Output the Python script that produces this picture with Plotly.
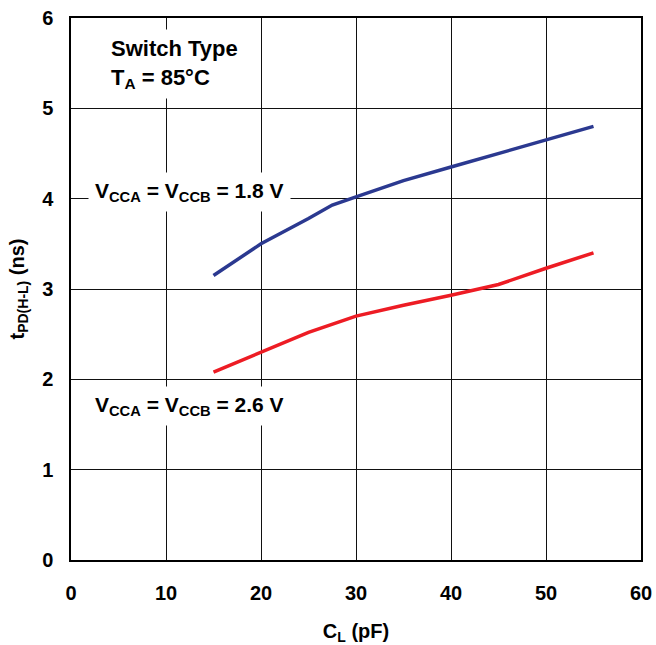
import plotly.graph_objects as go

cl_pf = [15, 20, 25, 27.5, 30, 35, 40, 45, 50, 55]
t_18v = [3.15, 3.5, 3.78, 3.93, 4.02, 4.2, 4.35, 4.5, 4.65, 4.8]
cl_pf_26 = [15, 20, 25, 30, 35, 40, 45, 50, 55]
t_26v = [2.08, 2.3, 2.52, 2.7, 2.82, 2.93, 3.05, 3.23, 3.4]
x_ticks = [0, 10, 20, 30, 40, 50, 60]
y_ticks = [0, 1, 2, 3, 4, 5, 6]

FONT = "Liberation Sans, Arial, sans-serif"

fig = go.Figure()
fig.add_trace(go.Scatter(x=cl_pf, y=t_18v, mode="lines",
                         line=dict(color="#2B3990", width=3.5), showlegend=False))
fig.add_trace(go.Scatter(x=cl_pf_26, y=t_26v, mode="lines",
                         line=dict(color="#ED1C24", width=3.5), showlegend=False))

fig.update_layout(
    width=656, height=645,
    margin=dict(l=71, r=15, t=18, b=85),
    paper_bgcolor="white", plot_bgcolor="white",
    font=dict(family=FONT, color="black"),
)
fig.update_xaxes(range=[0, 60], tickvals=x_ticks, showgrid=True, gridcolor="#111111",
                 gridwidth=1, showline=True, linecolor="black", linewidth=1.5, mirror=True,
                 ticks="", zeroline=False, automargin=False, ticklabelstandoff=14,
                 tickfont=dict(size=20, family=FONT, color="black", weight="bold"),
                 title=dict(text="<b>C<sub>L</sub> (pF)</b>", font=dict(size=20, family=FONT), standoff=23))
fig.update_yaxes(range=[0, 6], tickvals=y_ticks, showgrid=True, gridcolor="#111111",
                 gridwidth=1, showline=True, linecolor="black", linewidth=1.5, mirror=True,
                 ticks="", zeroline=False, automargin=False, ticklabelstandoff=12,
                 tickfont=dict(size=20, family=FONT, color="black", weight="bold"),
                 title=dict(text="<b>t<sub>PD(H-L)</sub> (ns)</b>", font=dict(size=20, family=FONT), standoff=12))

fig.add_annotation(x=3.5, y=5.49, xref="x", yref="y", xanchor="left", yanchor="middle",
                   text="<b>Switch Type</b><br><b>T<sub>A</sub> = 85°C</b>", align="left",
                   showarrow=False, bgcolor="white", borderpad=6,
                   font=dict(size=22, family=FONT, color="black"))
fig.add_annotation(x=1.8, y=4.07, xref="x", yref="y", xanchor="left", yanchor="middle",
                   text="<b>V<sub>CCA</sub> = V<sub>CCB</sub> = 1.8 V</b>",
                   showarrow=False, bgcolor="white", borderpad=6,
                   font=dict(size=21, family=FONT, color="black"))
fig.add_annotation(x=1.8, y=1.71, xref="x", yref="y", xanchor="left", yanchor="middle",
                   text="<b>V<sub>CCA</sub> = V<sub>CCB</sub> = 2.6 V</b>",
                   showarrow=False, bgcolor="white", borderpad=6,
                   font=dict(size=21, family=FONT, color="black"))

fig.write_html("out.html", config={"displayModeBar": False},
               post_script="document.body.style.margin='0';document.body.style.overflow='hidden';")
